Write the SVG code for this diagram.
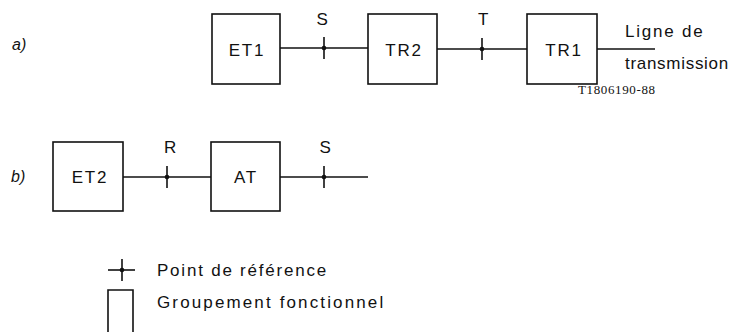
<svg xmlns="http://www.w3.org/2000/svg" width="738" height="333" viewBox="0 0 738 333">
<style>
.box{fill:none;stroke:#111;stroke-width:1.6}
.ln{fill:none;stroke:#111;stroke-width:1.6}
.t{font-family:"Liberation Sans",Arial,sans-serif;font-size:17px;fill:#111;letter-spacing:1.8px}
.lab{font-family:"Liberation Sans",Arial,sans-serif;font-size:16px;fill:#111;font-style:italic}
.code{font-family:"Liberation Serif","Times New Roman",serif;font-size:13px;fill:#111}
</style>
<defs>
<g id="refpt">
<line x1="0" y1="-11" x2="0" y2="11" class="ln"/>
<circle cx="0" cy="0" r="2.3" fill="#111"/>
</g>
</defs>
<text class="lab" x="12" y="50">a)</text>
<text class="lab" x="11" y="182">b)</text>
<g id="connectors">
<line class="ln" x1="280" y1="48" x2="368" y2="48"/>
<line class="ln" x1="437" y1="49" x2="527" y2="49"/>
<line class="ln" x1="597" y1="49" x2="655" y2="49"/>
<line class="ln" x1="123" y1="177" x2="211" y2="177"/>
<line class="ln" x1="280" y1="177" x2="368" y2="177"/>
<use href="#refpt" x="324" y="48"/>
<use href="#refpt" x="482" y="49"/>
<use href="#refpt" x="167" y="177"/>
<use href="#refpt" x="324" y="177"/>
</g>
<text class="t" x="323" y="25" text-anchor="middle">S</text>
<text class="t" x="484" y="25" text-anchor="middle">T</text>
<text class="t" x="171" y="153" text-anchor="middle">R</text>
<text class="t" x="326" y="153" text-anchor="middle">S</text>
<g id="ET1"><rect class="box" x="212" y="14" width="68" height="70"/><text class="t" x="247" y="56" text-anchor="middle">ET1</text></g>
<g id="TR2"><rect class="box" x="368" y="14" width="69" height="70"/><text class="t" x="404" y="56" text-anchor="middle">TR2</text></g>
<g id="TR1"><rect class="box" x="527" y="14" width="70" height="70"/><text class="t" x="564" y="56" text-anchor="middle">TR1</text></g>
<g id="line-label"><text class="t" x="625" y="37">Ligne de</text><text class="t" x="625" y="69" textLength="105">transmission</text></g>
<text class="code" x="578" y="94" textLength="77">T1806190-88</text>
<g id="ET2"><rect class="box" x="53" y="142" width="70" height="69"/><text class="t" x="90" y="183" text-anchor="middle">ET2</text></g>
<g id="AT"><rect class="box" x="211" y="142" width="69" height="69"/><text class="t" x="246" y="183" text-anchor="middle">AT</text></g>
<g id="legend">
<line class="ln" x1="108" y1="270" x2="135" y2="270"/>
<use href="#refpt" x="122" y="270"/>
<text class="t" x="157" y="276" textLength="171">Point de référence</text>
<path class="box" d="M108,332 V290 H133 V332"/>
<text class="t" x="157" y="308" textLength="228">Groupement fonctionnel</text>
</g>
</svg>
